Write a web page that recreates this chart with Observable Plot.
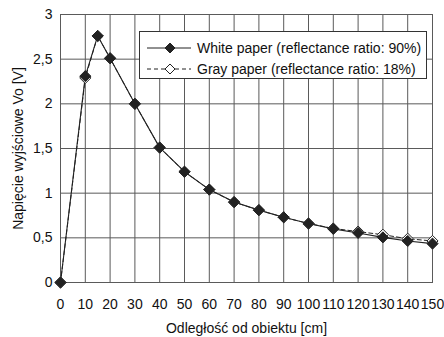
<!DOCTYPE html>
<html>
<head>
<meta charset="utf-8">
<script src="https://cdn.jsdelivr.net/npm/d3@7"></script>
<script src="https://cdn.jsdelivr.net/npm/@observablehq/plot@0.6"></script>
<style>
  html, body { margin: 0; padding: 0; background: #fff; }
  #wrap { position: relative; width: 444px; height: 337px; font-family: "Liberation Sans", Arial, sans-serif; }
  #legend { position: absolute; background: #fff; border: 1px solid #333; box-sizing: border-box; font-size: 14px; color: #111; }
  #legend .row { position: absolute; left: 0; height: 16px; display: flex; align-items: center; }
  #legend svg { display: block; }
  #legend span { position: absolute; white-space: nowrap; line-height: 16px; }
</style>
</head>
<body>
<div id="wrap"></div>
<script>
const distance = [0, 10, 15, 20, 30, 40, 50, 60, 70, 80, 90, 100, 110, 120, 130, 140, 150];
const whitePaper = [0, 2.31, 2.76, 2.51, 2.0, 1.51, 1.24, 1.04, 0.9, 0.81, 0.73, 0.66, 0.6, 0.555, 0.505, 0.465, 0.435];
const grayPaper = [0, 2.29, 2.76, 2.51, 2.0, 1.51, 1.24, 1.04, 0.9, 0.81, 0.73, 0.66, 0.605, 0.57, 0.535, 0.49, 0.465];
const xTicks = [0, 10, 20, 30, 40, 50, 60, 70, 80, 90, 100, 110, 120, 130, 140, 150];
const yTicks = [0, 0.5, 1, 1.5, 2, 2.5, 3];
const seriesNames = ["White paper (reflectance ratio: 90%)", "Gray paper (reflectance ratio: 18%)"];
const xLabel = "Odległość od obiektu [cm]";
const yLabel = "Napięcie wyjściowe Vo [V]";

const whiteData = distance.map((d, i) => ({x: d, y: whitePaper[i]}));
const grayData = distance.map((d, i) => ({x: d, y: grayPaper[i]}));
const fmt = d => String(d).replace(".", ",");

const ink = "#222";
const grid = "#5a5a5a";

const chart = Plot.plot({
  width: 444,
  height: 337,
  marginLeft: 60,
  marginRight: 12,
  marginTop: 14,
  marginBottom: 55,
  style: {fontFamily: "'Liberation Sans', Arial, sans-serif", fontSize: "14px", color: "#111", background: "#fff"},
  x: {domain: [0, 150]},
  y: {domain: [0, 3]},
  marks: [
    Plot.gridX(xTicks, {stroke: grid, strokeOpacity: 1}),
    Plot.gridY(yTicks, {stroke: grid, strokeOpacity: 1}),
    Plot.frame({stroke: grid}),
    Plot.axisX(xTicks, {tickSize: 0, tickPadding: 17, label: xLabel, labelAnchor: "center", labelOffset: 50, labelArrow: "none", fontSize: "14px"}),
    Plot.axisY(yTicks, {tickSize: 0, tickPadding: 8, tickFormat: fmt, label: yLabel, labelAnchor: "center", labelOffset: 47, labelArrow: "none", fontSize: "14px"}),
    Plot.line(grayData, {x: "x", y: "y", stroke: ink, strokeWidth: 1, strokeDasharray: "4,3"}),
    Plot.line(whiteData, {x: "x", y: "y", stroke: ink, strokeWidth: 1.1}),
    Plot.dot(grayData, {x: "x", y: "y", symbol: "diamond2", r: 5, fill: "#fff", stroke: ink, strokeWidth: 1}),
    Plot.dot(whiteData, {x: "x", y: "y", symbol: "diamond2", r: 5, fill: ink, stroke: ink, strokeWidth: 1})
  ]
});

const wrap = document.getElementById("wrap");
wrap.appendChild(chart);

// Legend overlay (inside the plot area, top right)
const legend = document.createElement("div");
legend.id = "legend";
legend.style.left = "139px";
legend.style.top = "31px";
legend.style.width = "288px";
legend.style.height = "48px";
const rows = [
  {name: seriesNames[0], fill: ink, dash: null, top: 8},
  {name: seriesNames[1], fill: "#fff", dash: "4,3", top: 29}
];
rows.forEach(r => {
  const row = document.createElement("div");
  row.className = "row";
  row.style.top = r.top + "px";
  row.style.width = "286px";
  const s = d3.create("svg").attr("width", 60).attr("height", 16);
  s.append("line").attr("x1", 7).attr("x2", 51).attr("y1", 8).attr("y2", 8)
    .attr("stroke", ink).attr("stroke-width", 1).attr("stroke-dasharray", r.dash);
  s.append("path").attr("d", "M30,3L35,8L30,13L25,8Z").attr("fill", r.fill).attr("stroke", ink);
  row.appendChild(s.node());
  const t = document.createElement("span");
  t.textContent = r.name;
  t.style.left = "57px";
  t.style.top = "0px";
  row.appendChild(t);
  legend.appendChild(row);
});
wrap.appendChild(legend);
</script>
</body>
</html>
